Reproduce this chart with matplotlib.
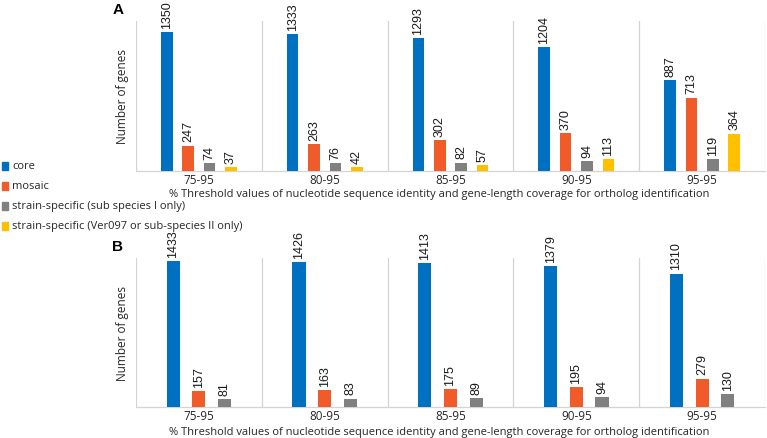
import matplotlib
matplotlib.use("Agg")
import matplotlib.pyplot as plt
import numpy as np

categories = ["75-95", "80-95", "85-95", "90-95", "95-95"]
series_names = ["core", "mosaic", "strain-specific (sub species I only)",
                "strain-specific (Ver097 or sub-species II only)"]
colors = ["#0070C0", "#F15A29", "#808080", "#FFC000"]

a_core = [1350, 1333, 1293, 1204, 887]
a_mosaic = [247, 263, 302, 370, 713]
a_ss1 = [74, 76, 82, 94, 119]
a_ss2 = [37, 42, 57, 113, 364]

b_core = [1433, 1426, 1413, 1379, 1310]
b_mosaic = [157, 163, 175, 195, 279]
b_ss1 = [81, 83, 89, 94, 130]

xlabel = "% Threshold values of nucleotide sequence identity and gene-length coverage for ortholog identification"
ylabel = "Number of genes"

txt_font = ["Open Sans", "DejaVu Sans"]
num_font = ["Liberation Sans", "DejaVu Sans"]
txt_col = "#262626"

fig = plt.figure(figsize=(7.67, 4.39), dpi=100)
axA = fig.add_axes([0.1773, 0.6082, 0.8201, 0.3417])
axB = fig.add_axes([0.1773, 0.0706, 0.8201, 0.3394])


def draw(ax, series, spacing, width, ymax, cols, label_y):
    x = np.arange(len(categories))
    n = len(series)
    for i, (vals, c) in enumerate(zip(series, cols)):
        off = (i - (n - 1) / 2) * spacing
        bars = ax.bar(x + off, vals, width, color=c, zorder=3)
        for b, v in zip(bars, vals):
            ax.annotate(str(v), (b.get_x() + b.get_width() / 2, b.get_height()),
                        xytext=(0, 3), textcoords="offset points",
                        rotation=90, ha="center", va="bottom",
                        fontsize=9, family=num_font, color="#1a1a1a")
    ax.set_xlim(-0.5, len(categories) - 0.5)
    ax.set_ylim(0, ymax)
    for bnd in np.arange(-0.5, len(categories) + 0.5, 1.0):
        ax.axvline(bnd, color="#d4d4d4", lw=0.9, zorder=1)
    for s in ["top", "right", "left"]:
        ax.spines[s].set_visible(False)
    ax.spines["bottom"].set_color("#d4d4d4")
    ax.spines["bottom"].set_linewidth(0.9)
    ax.set_yticks([])
    ax.set_xticks(x)
    ax.set_xticklabels(categories, fontsize=8.5, family=txt_font, color=txt_col)
    ax.tick_params(axis="x", length=0, pad=1.5)
    ax.set_xlabel(xlabel, fontsize=8.0, family=txt_font, color=txt_col)
    ax.xaxis.set_label_coords(0.482, label_y, transform=ax.transAxes)
    ax.xaxis.label.set_va("center")
    ax.set_ylabel(ylabel, fontsize=8.5, family=txt_font, labelpad=5, color=txt_col)


draw(axA, [a_core, a_mosaic, a_ss1, a_ss2], 0.17, 0.092, 1457, colors, -22.5 / 150)
draw(axB, [b_core, b_mosaic, b_ss1], 0.204, 0.104, 1462, colors[:3], -24 / 149)

fig.text(118 / 767, 1 - 10 / 439, "A", fontsize=11, fontweight="bold",
         family=["Liberation Sans", "DejaVu Sans"], ha="center", va="center")
fig.text(117 / 767, 1 - 247 / 439, "B", fontsize=11, fontweight="bold",
         family=["Liberation Sans", "DejaVu Sans"], ha="center", va="center")

# legend
leg_y = [167, 187, 207, 227]
for name, c, yy in zip(series_names, colors, leg_y):
    fig.patches.append(matplotlib.patches.Rectangle(
        (2 / 767, 1 - (yy + 4) / 439), 6 / 767, 8 / 439,
        transform=fig.transFigure, color=c, figure=fig))
    fig.text(12 / 767, 1 - yy / 439, name, fontsize=8.0, family=txt_font,
             ha="left", va="center", color=txt_col)

fig.savefig("out.png", dpi=100)
